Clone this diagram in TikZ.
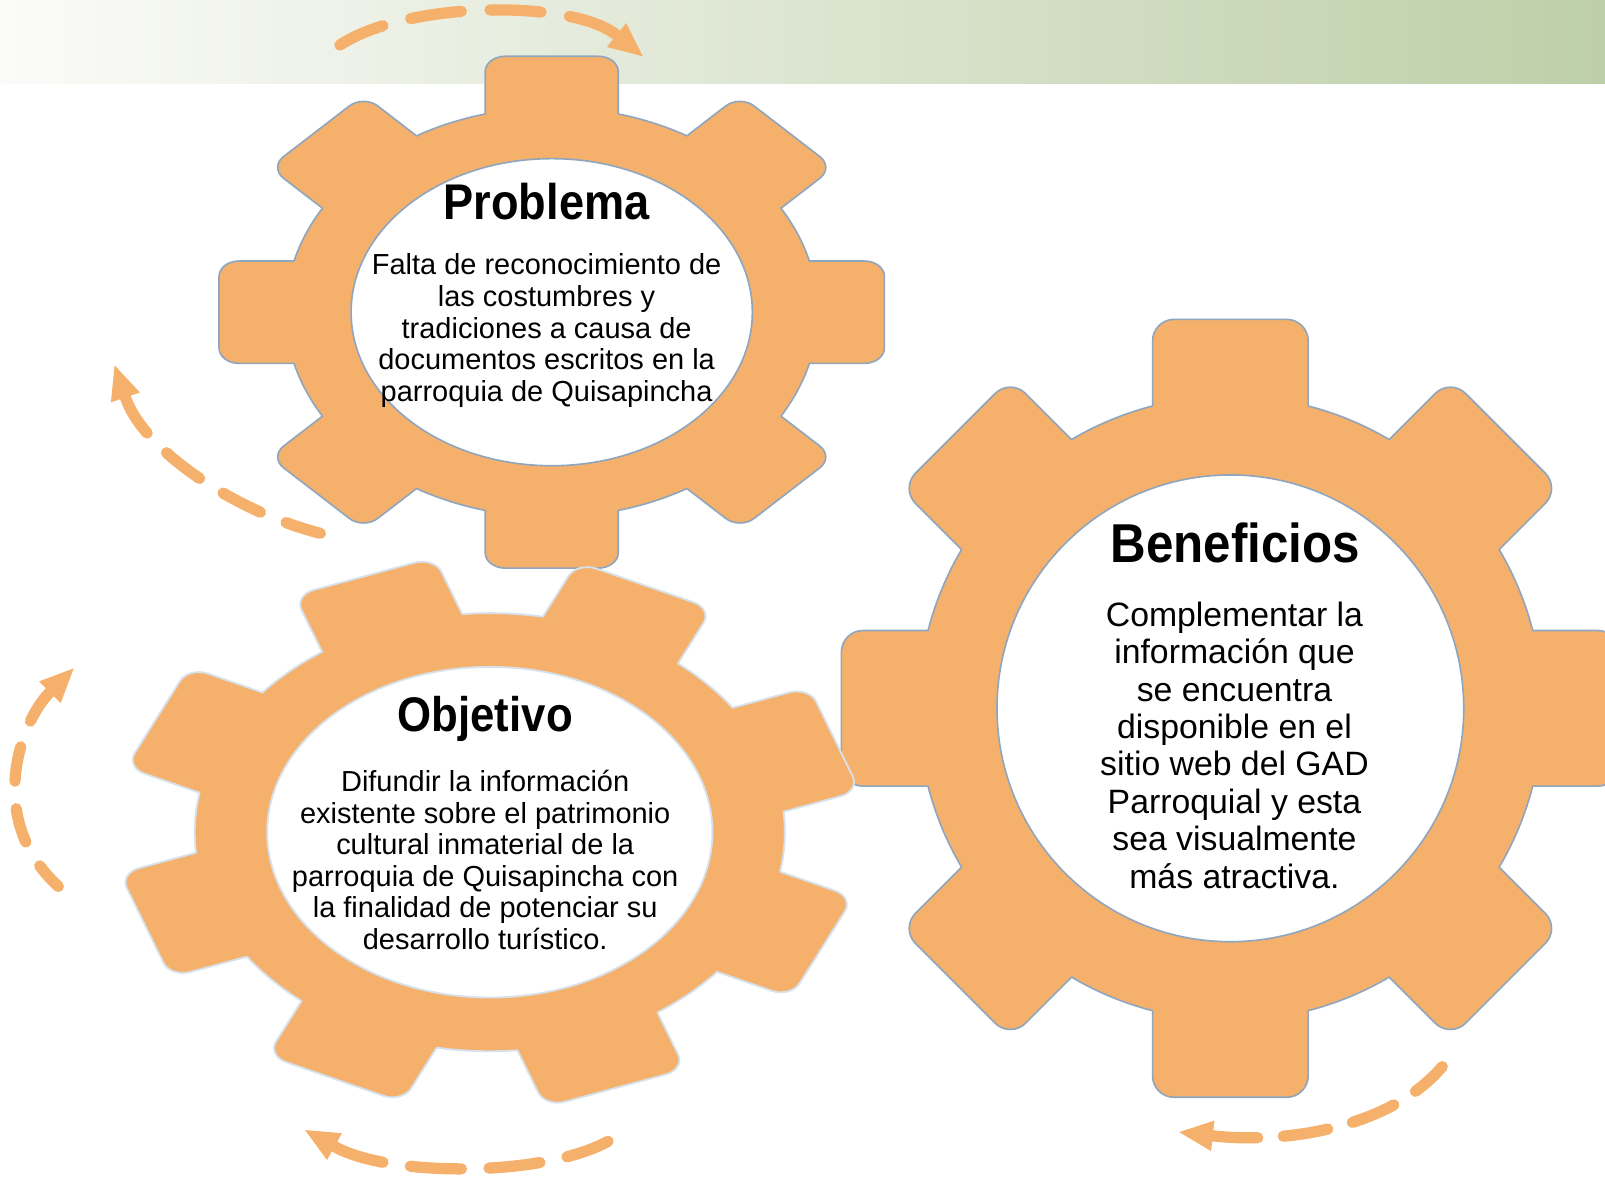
\documentclass[tikz,border=0pt]{standalone}
\usepackage{fontspec}
\setmainfont{Liberation Sans}
\newfontfamily\titlefont{Liberation Sans}[FakeStretch=0.9]
\usetikzlibrary{arrows.meta}
\definecolor{gearorange}{RGB}{245,177,107}
\definecolor{rimblue}{RGB}{143,166,190}
\definecolor{rimlight}{RGB}{214,225,236}
\definecolor{bandL}{RGB}{251,251,249}
\definecolor{bandR}{RGB}{189,207,168}
\tikzset{
  gearbody/.style={fill=gearorange, draw=rimblue, line width=1.6pt, line join=round},
  gearlight/.style={fill=gearorange, draw=rimlight, line width=1.8pt, line join=round},
  holedark/.style={fill=white, draw=rimblue, line width=1.6pt},
  holelight/.style={fill=white, draw=rimlight, line width=1.8pt},
  titletext/.style={font=\titlefont\bfseries, inner sep=0pt, anchor=base, text=black},
  bodytext/.style={align=center, inner sep=0pt, text=black},
  cyclearrow/.style={draw=gearorange, line width=11pt, line cap=round,
    {Triangle[length=33pt,width=30pt,line width=0pt]}-},
}
% #1 cx, #2 cy, #3 xscale, #4 phase, #5 tip radius, #6 body radius, #7 half width, #8 rounding, #9 style
\newcommand\drawgear[9]{%
  \begin{scope}[shift={(#1,#2)}, xscale=#3]
    \pgfmathsetmacro\gdb{asin((#7)/(#6))}
    \pgfmathsetmacro\gbb{(#6)*cos(\gdb)}
    \pgfmathsetmacro\gk{0.448*(#8)}
    \path[#9] ([rotate=#4]\gbb,-#7)
      \foreach \k [evaluate=\k as \a using {#4+45*\k}] in {0,...,7}{
        -- ([rotate=\a]#5-#8,-#7)
           .. controls ([rotate=\a]#5-\gk,-#7) and ([rotate=\a]#5,-#7+\gk) .. ([rotate=\a]#5,-#7+#8)
        -- ([rotate=\a]#5,#7-#8)
           .. controls ([rotate=\a]#5,#7-\gk) and ([rotate=\a]#5-\gk,#7) .. ([rotate=\a]#5-#8,#7)
        -- ([rotate=\a]\gbb,#7) arc[start angle=\a+\gdb, end angle=\a+45-\gdb, radius=#6]
      } -- cycle;
  \end{scope}}

\begin{document}
\begin{tikzpicture}[x=1pt, y=1pt]
  \useasboundingbox (0,0) rectangle (1568,-1150);
  \fill[white] (0,0) rectangle (1568,-1150);
  \shade[left color=bandL, right color=bandR] (0,0) rectangle (1568,-82);

  % Gear: Problema
  \drawgear{539}{-305}{1.3}{0}{250}{200}{50}{15}{gearbody}
  \draw[holedark] (539,-305) ellipse[x radius=196, y radius=150];

  % Gear: Beneficios
  \drawgear{1202}{-692}{1}{0}{380}{305}{76}{21}{gearbody}
  \draw[holedark] (1202,-692) circle[radius=228];

  % Gear: Objetivo
  \drawgear{478.5}{-813}{1.347}{20}{266}{214}{54}{15}{gearlight}
  \draw[holelight] (478.5,-813) ellipse[x radius=217.5, y radius=161.5];

  % Texts
  \node[titletext, font=\titlefont\bfseries\fontsize{49}{55}\selectfont] (ptitle) at (534,-214) {Problema};
  \node[bodytext, font=\fontsize{28.3}{31}\selectfont] (pbody) at (534,-323)
    {Falta de reconocimiento de\\las costumbres y\\tradiciones a causa de\\documentos escritos en la\\parroquia de Quisapincha};

  \node[titletext, font=\titlefont\bfseries\fontsize{47.5}{53}\selectfont] (otitle) at (474,-715) {Objetivo};
  \node[bodytext, font=\fontsize{28.3}{30.8}\selectfont] (obody) at (474,-840)
    {Difundir la información\\existente sobre el patrimonio\\cultural inmaterial de la\\parroquia de Quisapincha con\\la finalidad de potenciar su\\desarrollo turístico.};

  \node[titletext, font=\titlefont\bfseries\fontsize{53.5}{60}\selectfont] (btitle) at (1207,-550) {Beneficios};
  \node[bodytext, font=\fontsize{33}{36.5}\selectfont] (bbody) at (1206,-728)
    {Complementar la\\información que\\se encuentra\\disponible en el\\sitio web del GAD\\Parroquial y esta\\sea visualmente\\más atractiva.};

  % Cycle arrows (drawn from the tip back to the tail)
  \coordinate (a1s) at (332,-44);   \coordinate (a1e) at (628,-55);
  \coordinate (a2s) at (313,-521);  \coordinate (a2e) at (112,-357);
  \coordinate (a3s) at (57,-866);   \coordinate (a3e) at (72,-653);
  \coordinate (a4s) at (594,-1115); \coordinate (a4e) at (298,-1104);
  \coordinate (a5s) at (1409,-1042);\coordinate (a5e) at (1152,-1106);
  \draw[cyclearrow, dash pattern=on 50pt off 28pt] (a1e) .. controls (560,0) and (400,0) .. (a1s);
  \draw[cyclearrow, dash pattern=on 41pt off 27pt] (a2e) .. controls (140,-440) and (230,-500) .. (a2s);
  \draw[cyclearrow, dash pattern=on 34pt off 27pt] (a3e) .. controls (20,-705) and (-15,-800) .. (a3s);
  \draw[cyclearrow, dash pattern=on 50pt off 27pt] (a4e) .. controls (380,-1150) and (530,-1150) .. (a4s);
  \draw[cyclearrow, dash pattern=on 44pt off 25pt] (a5e) .. controls (1260,-1118) and (1360,-1100) .. (a5s);
\end{tikzpicture}
\end{document}
